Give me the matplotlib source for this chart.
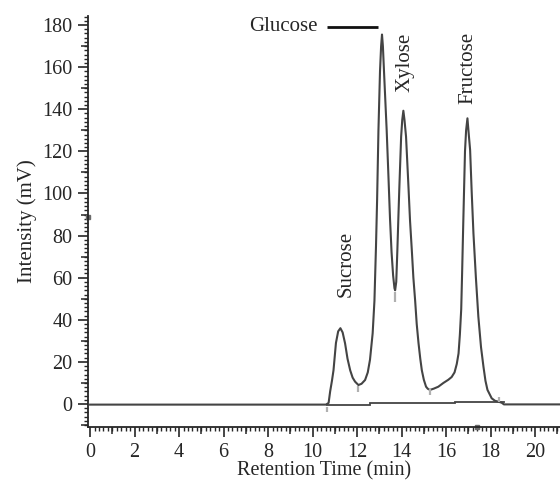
import matplotlib
matplotlib.use("Agg")
import matplotlib.pyplot as plt
import matplotlib.markers as mmarkers
import matplotlib.transforms as mtransforms
from matplotlib.ticker import MultipleLocator

plt.rcParams['font.family'] = ['Liberation Serif', 'DejaVu Serif']

# HPLC trace: retention time (min) and detector signal (mV)
time_min = [0.0, 10.6, 10.72, 10.79, 10.87, 10.94, 11.05, 11.15, 11.25, 11.35,
            11.46, 11.57, 11.69, 11.80, 11.91, 12.06, 12.20, 12.36, 12.48, 12.58,
            12.70, 12.78, 12.85, 12.90, 12.96, 13.03, 13.08, 13.12, 13.16, 13.21,
            13.27, 13.33, 13.41, 13.48, 13.55, 13.62, 13.68, 13.71, 13.76, 13.81,
            13.86, 13.90, 13.98, 14.03, 14.08, 14.13, 14.20, 14.26, 14.31, 14.38,
            14.46, 14.53, 14.61, 14.68, 14.76, 14.84, 14.91, 15.00, 15.10, 15.18,
            15.28, 15.45, 15.65, 15.88, 16.10, 16.25, 16.38, 16.48, 16.56, 16.62,
            16.68, 16.72, 16.77, 16.85, 16.90, 16.96, 17.02, 17.08, 17.15, 17.23,
            17.34, 17.45, 17.57, 17.68, 17.77, 17.86, 18.05, 18.20, 18.35, 18.50,
            18.60, 21.2]
signal_mv = [-0.3, -0.3, 0.5, 6.0, 11.0, 16.0, 29.0, 34.5, 36.0, 34.0,
             28.8, 21.5, 16.0, 12.5, 10.6, 9.0, 9.6, 11.4, 15.0, 21.0,
             33.6, 49.0, 75.0, 97.0, 130.0, 158.0, 170.0, 175.5, 170.0, 158.0,
             144.0, 130.0, 108.0, 88.0, 72.0, 61.0, 55.0, 54.0, 58.0, 73.0,
             90.0, 103.0, 127.0, 135.0, 139.3, 135.0, 127.0, 114.0, 103.0, 87.0,
             73.0, 60.0, 49.0, 38.0, 29.0, 21.5, 16.0, 11.5, 8.2, 7.2,
             6.7, 7.3, 8.2, 10.0, 11.5, 12.8, 15.0, 19.0, 24.0, 33.0,
             45.0, 62.0, 85.0, 120.0, 130.0, 135.7, 128.0, 120.7, 101.0, 81.0,
             60.0, 41.5, 27.0, 17.7, 11.0, 6.7, 2.7, 1.5, 1.1, 0.6,
             -0.2, -0.2]

# integration baseline drawn under the peaks
base_time = [10.65, 12.6, 12.6, 16.4, 16.4, 18.6]
base_mv = [-0.3, -0.3, 0.4, 0.4, 0.8, 0.8]

# peak start / end markers
marker_time = [10.64, 12.06, 13.71, 15.28, 18.40]
marker_top = [-1.4, 8.5, 53.0, 7.5, 3.5]
marker_bottom = [-3.8, 5.5, 48.5, 4.5, 0.8]

# peak names with label positions
peak_names = ['Sucrose', 'Xylose', 'Fructose']
peak_label_t = [11.52, 14.14, 16.97]
peak_label_v = [66.5, 162.5, 159.5]
glucose_label = 'Glucose'
glucose_label_pos = (8.68, 179.3)
glucose_leader_t = [10.65, 12.94]
glucose_leader_v = [179.0, 179.0]

xlabel = 'Retention Time (min)'
ylabel = 'Intensity (mV)'

ink = '#262626'
trace = '#444444'

fig = plt.figure(figsize=(5.6, 4.82), dpi=100)
ax = fig.add_axes([0.1577, 0.1147, 0.8423, 0.8521])
ax.set_xlim(-0.08, 21.12)
ax.set_ylim(-10.8, 184.3)

ax.plot(base_time, base_mv, color=trace, lw=1.3, solid_joinstyle='miter')
ax.plot(time_min, signal_mv, color=trace, lw=1.5)
for t, top, bot in zip(marker_time, marker_top, marker_bottom):
    ax.plot([t, t], [bot, top], color='#b0b0b0', lw=1.6, solid_capstyle='butt')

ax.plot(glucose_leader_t, glucose_leader_v, color='#111111', lw=2.0,
        solid_capstyle='butt')
ax.text(glucose_label_pos[0], glucose_label_pos[1], glucose_label,
        fontsize=15, color=ink, ha='center', va='center')
for name, t, v in zip(peak_names, peak_label_t, peak_label_v):
    ax.text(t, v, name, fontsize=15, color=ink, rotation=90,
            ha='center', va='center', rotation_mode='anchor')

for side in ('top', 'right'):
    ax.spines[side].set_visible(False)
for side in ('left', 'bottom'):
    ax.spines[side].set_color(ink)
    ax.spines[side].set_linewidth(1.3)

ax.xaxis.set_major_locator(MultipleLocator(2))
ax.xaxis.set_minor_locator(MultipleLocator(0.2))
ax.yaxis.set_major_locator(MultipleLocator(20))
ax.yaxis.set_minor_locator(MultipleLocator(2))
ax.tick_params(which='major', direction='out', length=7.5, width=1.2,
               color=ink, labelsize=14.5, labelcolor=ink)
ax.tick_params(axis='y', which='major', pad=4)
ax.tick_params(axis='x', which='major', pad=4.5)
ax.tick_params(which='minor', direction='out', length=3, width=1.0, color=ink)

# intermediate-length ticks at odd minutes and odd tens of mV
mid_x = [v for v in range(1, 22, 2)]
mid_y = [v for v in range(-10, 185, 20)]
tx = mtransforms.blended_transform_factory(ax.transData, ax.transAxes)
ty = mtransforms.blended_transform_factory(ax.transAxes, ax.transData)
ax.plot(mid_x, [0] * len(mid_x), transform=tx, linestyle='none',
        marker=mmarkers.TICKDOWN, markersize=5, markeredgewidth=1.1,
        color=ink, clip_on=False)
ax.plot([0] * len(mid_y), mid_y, transform=ty, linestyle='none',
        marker=mmarkers.TICKLEFT, markersize=5, markeredgewidth=1.1,
        color=ink, clip_on=False)

# small cursor squares left on the axes
ax.plot([0], [89], transform=ty, marker='s', markersize=3.5, color='#6a6a6a',
        clip_on=False, linestyle='none')
ax.plot([17.4], [0], transform=tx, marker='s', markersize=3.5, color='#6a6a6a',
        clip_on=False, linestyle='none')

ax.set_xlabel(xlabel, fontsize=14.5, color=ink, labelpad=-1)
ax.set_ylabel(ylabel, fontsize=15, color=ink, labelpad=4)

fig.savefig('out.png', dpi=100, facecolor='white')
